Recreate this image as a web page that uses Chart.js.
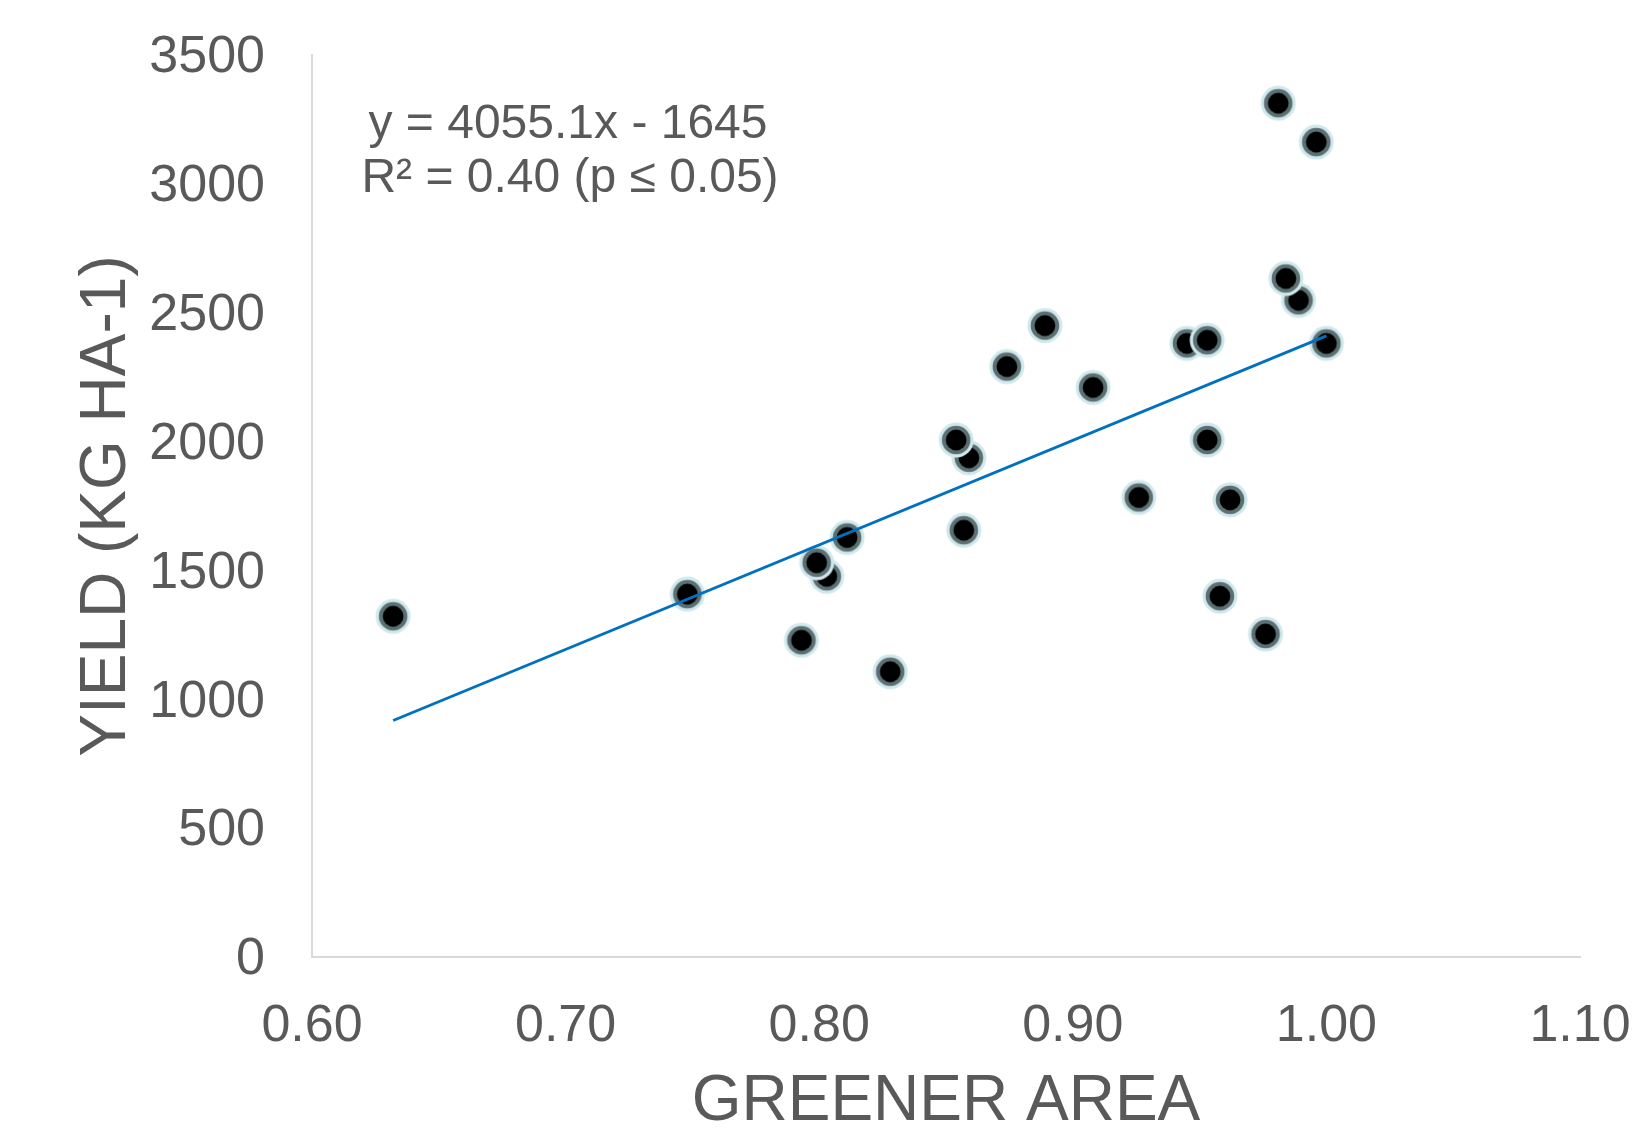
<!DOCTYPE html>
<html>
<head>
<meta charset="utf-8">
<script src="https://cdn.jsdelivr.net/npm/chart.js@4.4.1/dist/chart.umd.min.js"></script>
<style>
  html, body { margin: 0; padding: 0; background: #ffffff; }
</style>
</head>
<body>
<canvas id="chart" width="1646" height="1128"></canvas>
<script>
// Values
const greenerArea = [0.632, 0.748, 0.793, 0.803, 0.799, 0.811, 0.828, 0.859, 0.854, 0.857,
                     0.874, 0.889, 0.908, 0.926, 0.945, 0.953, 0.953, 0.958, 0.962, 0.976,
                     0.981, 0.996, 0.989, 0.984, 1.000];
const yieldKg = [1322, 1408, 1229, 1477, 1530, 1628, 1107, 1937, 2006, 1656,
                 2291, 2450, 2210, 1783, 2381, 2393, 2006, 1400, 1774, 1253,
                 3313, 3162, 2548, 2633, 2381];
const trendSlope = 4055.1;
const trendIntercept = -1645;
const equationLines = ['y = 4055.1x - 1645', 'R\u00B2 = 0.40 (p \u2264 0.05)'];
const xAxisTitle = 'GREENER AREA';
const yAxisTitle = 'YIELD (KG HA-1)';

const textColor = '#595959';
const axisColor = '#d9d9d9';
const fontFamily = '"Liberation Sans", Arial, sans-serif';

// Excel-like marker: pale glow, grey ring, black dot
function makeMarker() {
    const size = 38;
    const c = document.createElement('canvas');
    c.width = size;
    c.height = size;
    const g = c.getContext('2d');
    const mid = size / 2;
    const rings = [[17.5, '#d0e8ec'], [14.3, '#5c7073'], [10.4, '#000000']];
    rings.forEach(([r, col]) => {
        g.beginPath();
        g.arc(mid, mid, r, 0, Math.PI * 2);
        g.fillStyle = col;
        g.fill();
    });
    return c;
}

const points = greenerArea.map((x, i) => ({ x: x, y: yieldKg[i] }));
const xMin = Math.min(...greenerArea);
const xMax = Math.max(...greenerArea);
const trendPoints = [xMin, xMax].map(x => ({ x: x, y: trendSlope * x + trendIntercept }));

const equationPlugin = {
    id: 'equationLabel',
    afterDatasetsDraw(chart) {
        const ctx = chart.ctx;
        ctx.save();
        ctx.font = '48px ' + fontFamily;
        ctx.fillStyle = textColor;
        ctx.textAlign = 'center';
        ctx.textBaseline = 'alphabetic';
        ctx.fillText(equationLines[0], 568, 138);
        ctx.fillText(equationLines[1], 570, 192);
        ctx.restore();
    }
};

new Chart(document.getElementById('chart'), {
    type: 'scatter',
    data: {
        datasets: [
            {
                type: 'line',
                data: trendPoints,
                borderColor: '#0070c0',
                borderWidth: 2.8,
                pointRadius: 0,
                fill: false,
                order: 0
            },
            {
                data: points,
                pointStyle: makeMarker(),
                pointRadius: 19,
                order: 1
            }
        ]
    },
    options: {
        responsive: false,
        devicePixelRatio: 1,
        animation: false,
        layout: { padding: { left: 0, top: 55, right: 66, bottom: 0 } },
        plugins: {
            legend: { display: false },
            tooltip: { enabled: false }
        },
        events: [],
        scales: {
            x: {
                type: 'linear',
                min: 0.6,
                max: 1.1,
                afterFit: (scale) => {
                    scale.height = 171;
                    scale.paddingLeft = 0;
                    scale.paddingRight = 0;
                },
                grid: { display: false, drawTicks: false },
                border: { display: true, color: axisColor, width: 2 },
                ticks: {
                    stepSize: 0.1,
                    padding: 38,
                    color: textColor,
                    font: { family: fontFamily, size: 52 },
                    callback: (v) => v.toFixed(2)
                },
                title: {
                    display: true,
                    text: xAxisTitle,
                    color: textColor,
                    font: { family: fontFamily, size: 64, lineHeight: 0.8 },
                    padding: { top: 0, bottom: 0 }
                }
            },
            y: {
                type: 'linear',
                min: 0,
                max: 3500,
                afterFit: (scale) => {
                    scale.width = 312;
                    scale.paddingTop = 0;
                    scale.paddingBottom = 0;
                },
                grid: { display: false, drawTicks: false },
                border: { display: true, color: axisColor, width: 2 },
                ticks: {
                    stepSize: 500,
                    padding: 47,
                    labelOffset: 3,
                    color: textColor,
                    font: { family: fontFamily, size: 52 },
                    callback: (v) => String(v)
                },
                title: {
                    display: true,
                    text: yAxisTitle,
                    color: textColor,
                    font: { family: fontFamily, size: 64, lineHeight: 1 },
                    padding: { top: 75, bottom: 0 }
                }
            }
        }
    },
    plugins: [equationPlugin]
});
</script>
</body>
</html>
